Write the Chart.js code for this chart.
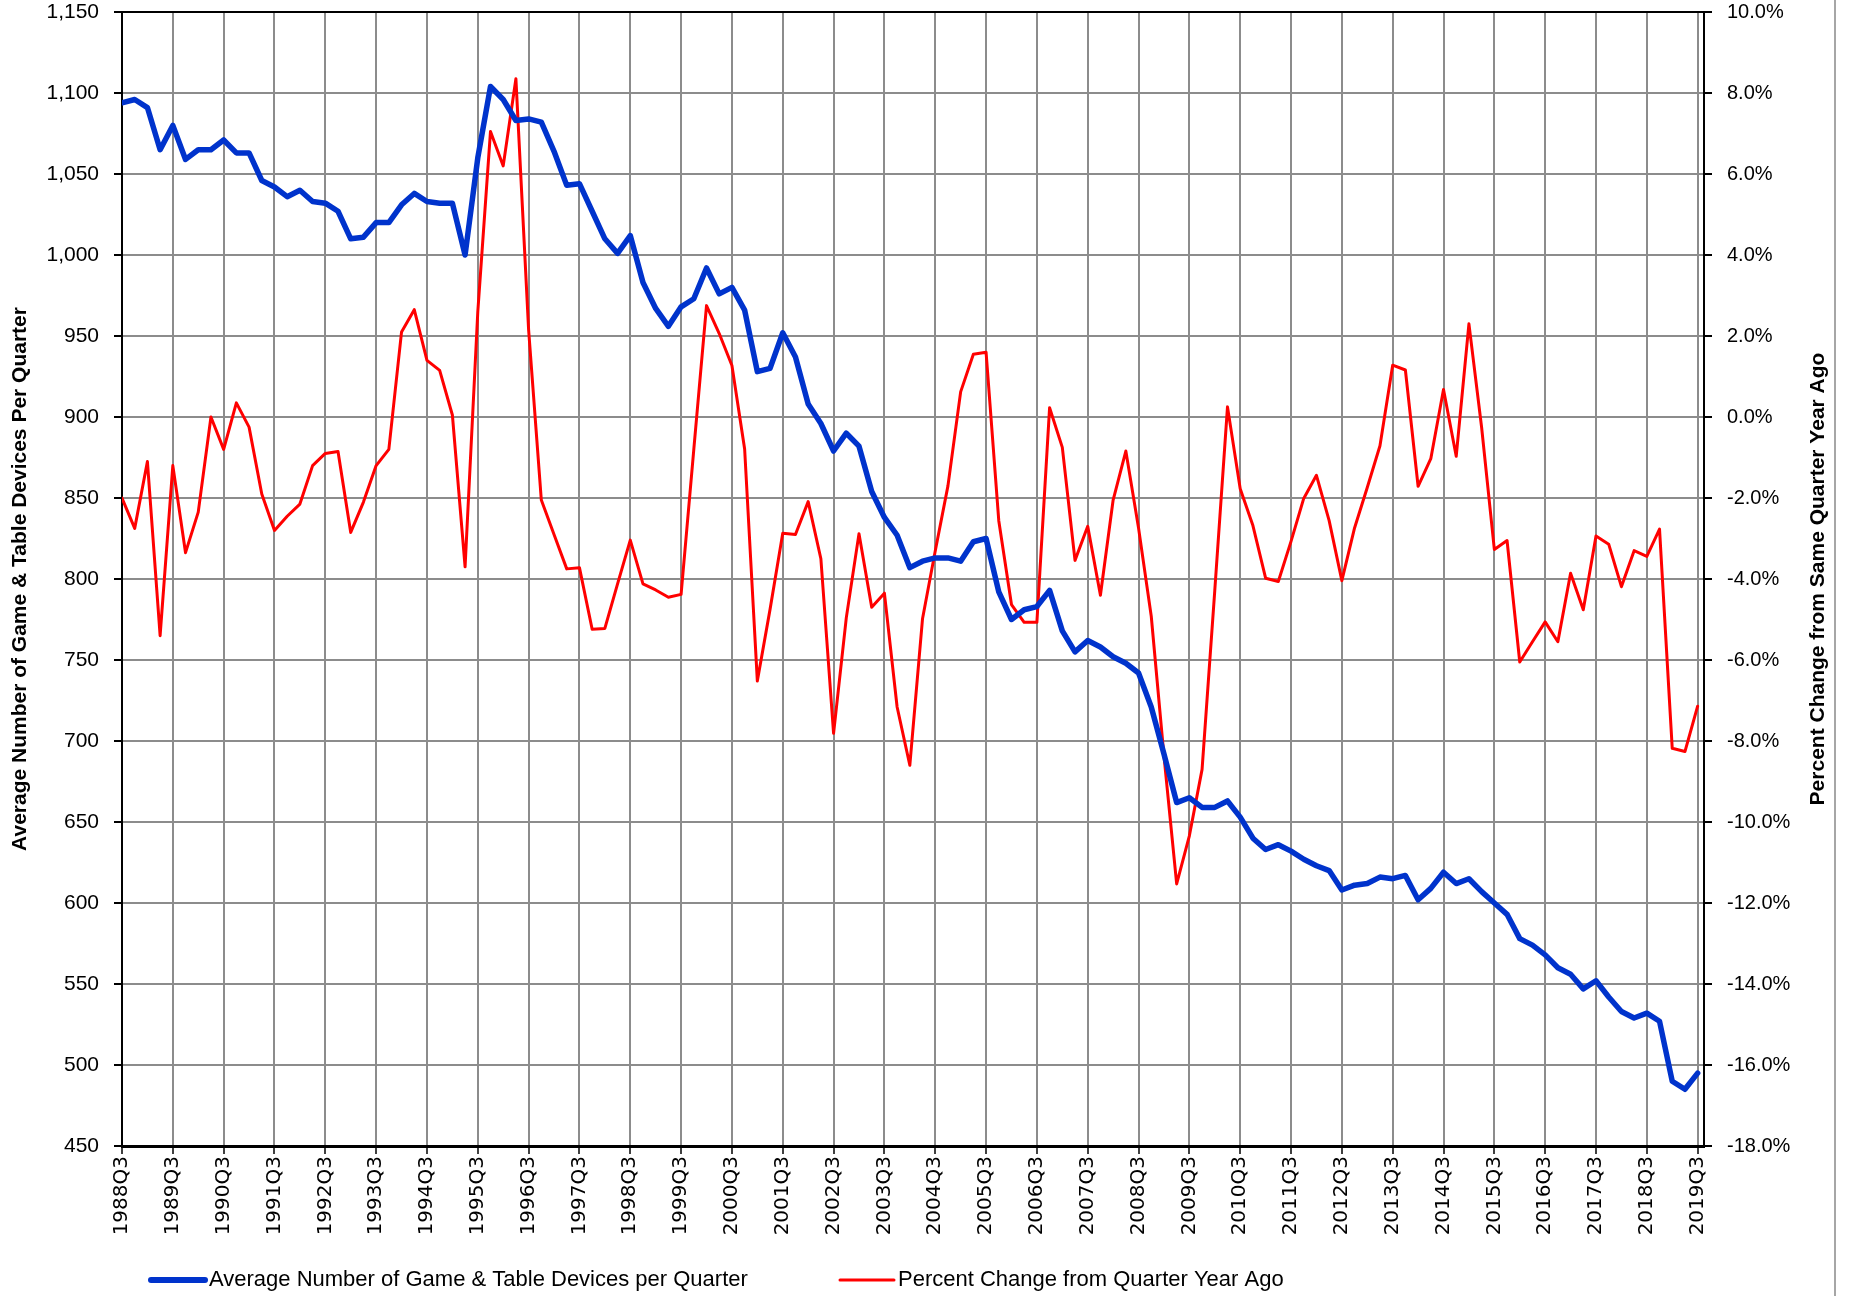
<!DOCTYPE html>
<html>
<head>
<meta charset="utf-8">
<title>Game &amp; Table Devices per Quarter</title>
<script src="https://cdn.jsdelivr.net/npm/chart.js@4.4.1/dist/chart.umd.min.js"></script>
<style>
  html, body { margin: 0; padding: 0; background: #fff; }
  #wrap { width: 1850px; height: 1296px; }
</style>
</head>
<body>
<div id="wrap"><canvas id="myChart" width="1850" height="1296"></canvas></div>
<script>
const quarters = [
    '1988Q3', '1988Q4',
    '1989Q1', '1989Q2', '1989Q3', '1989Q4',
    '1990Q1', '1990Q2', '1990Q3', '1990Q4',
    '1991Q1', '1991Q2', '1991Q3', '1991Q4',
    '1992Q1', '1992Q2', '1992Q3', '1992Q4',
    '1993Q1', '1993Q2', '1993Q3', '1993Q4',
    '1994Q1', '1994Q2', '1994Q3', '1994Q4',
    '1995Q1', '1995Q2', '1995Q3', '1995Q4',
    '1996Q1', '1996Q2', '1996Q3', '1996Q4',
    '1997Q1', '1997Q2', '1997Q3', '1997Q4',
    '1998Q1', '1998Q2', '1998Q3', '1998Q4',
    '1999Q1', '1999Q2', '1999Q3', '1999Q4',
    '2000Q1', '2000Q2', '2000Q3', '2000Q4',
    '2001Q1', '2001Q2', '2001Q3', '2001Q4',
    '2002Q1', '2002Q2', '2002Q3', '2002Q4',
    '2003Q1', '2003Q2', '2003Q3', '2003Q4',
    '2004Q1', '2004Q2', '2004Q3', '2004Q4',
    '2005Q1', '2005Q2', '2005Q3', '2005Q4',
    '2006Q1', '2006Q2', '2006Q3', '2006Q4',
    '2007Q1', '2007Q2', '2007Q3', '2007Q4',
    '2008Q1', '2008Q2', '2008Q3', '2008Q4',
    '2009Q1', '2009Q2', '2009Q3', '2009Q4',
    '2010Q1', '2010Q2', '2010Q3', '2010Q4',
    '2011Q1', '2011Q2', '2011Q3', '2011Q4',
    '2012Q1', '2012Q2', '2012Q3', '2012Q4',
    '2013Q1', '2013Q2', '2013Q3', '2013Q4',
    '2014Q1', '2014Q2', '2014Q3', '2014Q4',
    '2015Q1', '2015Q2', '2015Q3', '2015Q4',
    '2016Q1', '2016Q2', '2016Q3', '2016Q4',
    '2017Q1', '2017Q2', '2017Q3', '2017Q4',
    '2018Q1', '2018Q2', '2018Q3', '2018Q4',
    '2019Q1', '2019Q2', '2019Q3'
]

// average number of game & table devices
const devices = [
    1094, 1096, 1091, 1065, 1080, 1059, 1065, 1065, 1071, 1063,
    1063, 1046, 1042, 1036, 1040, 1033, 1032, 1027, 1010, 1011,
    1020, 1020, 1031, 1038, 1033, 1032, 1032, 1000, 1060, 1104,
    1096, 1083, 1084, 1082, 1064, 1043, 1044, 1027, 1010, 1001,
    1012, 983, 967, 956, 968, 973, 992, 976, 980, 966,
    928, 930, 952, 937, 908, 896, 879, 890, 882, 854,
    838, 827, 807, 811, 813, 813, 811, 823, 825, 792,
    775, 781, 783, 793, 768, 755, 762, 758, 752, 748,
    742, 721, 692, 662, 665, 659, 659, 663, 653, 640,
    633, 636, 632, 627, 623, 620, 608, 611, 612, 616,
    615, 617, 602, 609, 619, 612, 615, 607, 600, 593,
    578, 574, 568, 560, 556, 547, 552, 542, 533, 529,
    532, 527, 490, 485, 495
]

// percent change from same quarter a year ago
const pctChange = [
    -2.0, -2.75, -1.1, -5.4, -1.2, -3.35, -2.35, 0.0, -0.8, 0.35,
    -0.25, -1.9, -2.8, -2.45, -2.15, -1.2, -0.9, -0.85, -2.85, -2.1,
    -1.2, -0.8, 2.1, 2.65, 1.4, 1.15, 0.05, -3.7, 2.6, 7.05,
    6.2, 8.35, 2.15, -2.05, -2.9, -3.75, -3.72, -5.24, -5.22, -4.12,
    -3.04, -4.12, -4.27, -4.45, -4.38, -0.8, 2.75, 2.06, 1.27, -0.79,
    -6.52, -4.75, -2.87, -2.9, -2.09, -3.5, -7.81, -4.96, -2.88, -4.7,
    -4.35, -7.16, -8.6, -4.98, -3.31, -1.7, 0.62, 1.55, 1.6, -2.56,
    -4.63, -5.07, -5.07, 0.23, -0.75, -3.54, -2.7, -4.4, -2.05, -0.84,
    -2.74, -4.92, -8.37, -11.53, -10.34, -8.7, -4.28, 0.25, -1.77, -2.68,
    -3.98, -4.06, -3.07, -2.01, -1.44, -2.56, -4.04, -2.74, -1.74, -0.71,
    1.28, 1.16, -1.71, -1.03, 0.68, -0.97, 2.3, -0.26, -3.27, -3.05,
    -6.05, -5.55, -5.06, -5.55, -3.86, -4.76, -2.94, -3.14, -4.19, -3.3,
    -3.44, -2.77, -8.18, -8.26, -7.14
]

const deviceLabel = 'Average Number of Game & Table Devices per Quarter'
const pctLabel = 'Percent Change from Quarter Year Ago'
const leftTitle = 'Average Number of Game & Table Devices Per Quarter'
const rightTitle = 'Percent Change from Same Quarter Year Ago'

const GRID = '#8c8c8c'
const FONT = '"Liberation Sans", Arial, sans-serif'

// right title reads upwards, legend sits left of centre, thin frame on the right
const extras = {
    id: 'extras',
    afterDraw(chart) {
        const ctx = chart.ctx
        const area = chart.chartArea

        ctx.save()
        ctx.fillStyle = '#000'
        ctx.font = 'bold 21px ' + FONT
        ctx.textAlign = 'center'
        ctx.textBaseline = 'middle'
        ctx.translate(1818, (area.top + area.bottom) / 2)
        ctx.rotate(-Math.PI / 2)
        ctx.fillText(rightTitle, 0, 0)
        ctx.restore()

        const starts = [151, 840]
        ctx.save()
        ctx.font = '22px ' + FONT
        ctx.textBaseline = 'middle'
        ctx.textAlign = 'left'
        chart.data.datasets.forEach((ds, i) => {
            const x = starts[i]
            const y = 1280
            ctx.strokeStyle = ds.borderColor
            ctx.lineWidth = i === 0 ? 6 : 3
            ctx.lineCap = 'round'
            ctx.beginPath()
            ctx.moveTo(x, y)
            ctx.lineTo(x + 54, y)
            ctx.stroke()
            ctx.fillStyle = '#000'
            ctx.fillText(ds.label, x + 58, y)
        })
        ctx.restore()

        ctx.save()
        ctx.strokeStyle = '#a6a6a6'
        ctx.lineWidth = 2
        ctx.beginPath()
        ctx.moveTo(1835, 0)
        ctx.lineTo(1835, 1296)
        ctx.stroke()
        ctx.restore()
    }
}

// keep the plot top where the reference has it
const fitVertical = width => s => {
    s.width = width
    s.paddingTop = 12
    s.paddingBottom = 0
}

const ctx = document.getElementById('myChart')
new Chart(ctx, {
    type: 'line',
    data: {
        datasets: [{
            label: deviceLabel,
            data: devices.map((v, i) => ({x: i, y: v})),
            yAxisID: 'y',
            borderColor: '#0033cc',
            borderWidth: 5.5
        }, {
            label: pctLabel,
            data: pctChange.map((v, i) => ({x: i, y: v})),
            yAxisID: 'y1',
            borderColor: '#ff0000',
            borderWidth: 3
        }]
    },
    options: {
        responsive: false,
        animation: false,
        devicePixelRatio: 1,
        layout: {padding: 0},
        plugins: {
            legend: {display: false},
            tooltip: {enabled: false}
        },
        elements: {
            point: {radius: 0},
            line: {tension: 0, borderJoinStyle: 'round', borderCapStyle: 'round'}
        },
        scales: {
            x: {
                type: 'linear',
                min: 0,
                max: 124.5,
                afterFit: s => { s.height = 150 },
                ticks: {
                    stepSize: 4,
                    includeBounds: false,
                    autoSkip: false,
                    maxRotation: 90,
                    minRotation: 90,
                    padding: 2,
                    color: '#000',
                    font: {family: '"DejaVu Sans", Verdana, sans-serif', size: 20},
                    callback: v => quarters[v]
                },
                grid: {color: GRID, lineWidth: 2, tickLength: 8, tickColor: '#000', tickWidth: 1.5},
                border: {color: '#000', width: 3}
            },
            y: {
                position: 'left',
                min: 450,
                max: 1150,
                afterFit: fitVertical(122),
                ticks: {
                    stepSize: 50,
                    padding: 15,
                    color: '#000',
                    font: {family: FONT, size: 21},
                    callback: v => v.toLocaleString('en-US')
                },
                grid: {
                    color: c => c.tick && c.tick.value === 1150 ? '#000' : GRID,
                    lineWidth: 2,
                    tickLength: 8,
                    tickColor: '#000'
                },
                border: {color: '#000', width: 2},
                title: {
                    display: true,
                    text: leftTitle,
                    color: '#000',
                    font: {family: FONT, size: 21, weight: 'bold'},
                    padding: {top: 8, bottom: 0}
                }
            },
            y1: {
                position: 'right',
                min: -18,
                max: 10,
                afterFit: fitVertical(146),
                ticks: {
                    stepSize: 2,
                    padding: 15,
                    color: '#000',
                    font: {family: FONT, size: 20},
                    callback: v => v.toFixed(1) + '%'
                },
                grid: {drawOnChartArea: false, lineWidth: 2, tickLength: 8, tickColor: '#000'},
                border: {color: '#000', width: 2}
            }
        }
    },
    plugins: [extras]
})
</script>
</body>
</html>
